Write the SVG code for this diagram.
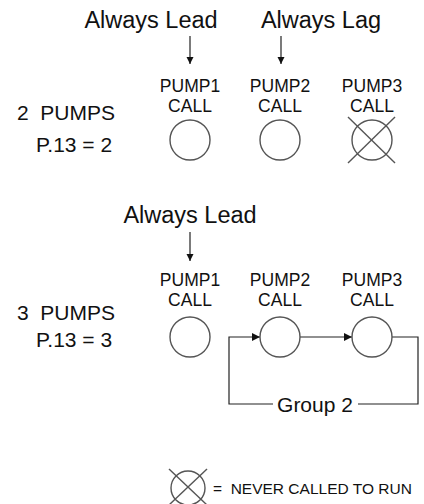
<svg xmlns="http://www.w3.org/2000/svg" width="424" height="504" viewBox="0 0 424 504">
<style>
text{font-family:"Liberation Sans",Arial,sans-serif;fill:#111;white-space:pre}
.big{font-size:23.5px;text-anchor:middle}
.lbl{font-size:17.5px;text-anchor:middle}
.side{font-size:21px}
.c{fill:none;stroke:#555;stroke-width:1.4}
.ln{fill:none;stroke:#222;stroke-width:1.2}
</style>
<defs>
<marker id="ah" viewBox="0 0 10 10" refX="10" refY="5" markerWidth="7" markerHeight="11" markerUnits="userSpaceOnUse" orient="auto"><path d="M0,0 L10,5 L0,10 z" fill="#111"/></marker>
<marker id="ah2" viewBox="0 0 10 10" refX="10" refY="5" markerWidth="14" markerHeight="8" markerUnits="userSpaceOnUse" orient="auto"><path d="M0,0 L10,5 L0,10 z" fill="#111"/></marker>
</defs>
<rect width="424" height="504" fill="#fff"/>
<g id="connectors">
<line class="ln" x1="190" y1="36" x2="190" y2="64" marker-end="url(#ah)"/>
<line class="ln" x1="281" y1="36" x2="281" y2="64" marker-end="url(#ah)"/>
<line class="ln" x1="190" y1="232" x2="190" y2="261" marker-end="url(#ah)"/>
<line class="ln" x1="300" y1="337" x2="352" y2="337" marker-end="url(#ah2)"/>
<polyline class="ln" points="392,337 418,337 418,404 358,404"/>
<polyline class="ln" points="273,404 229,404 229,337 260,337" marker-end="url(#ah2)"/>
</g>
<g id="heading-1">
<text class="big" x="151" y="28">Always Lead</text>
<text class="big" x="321" y="28">Always Lag</text>
</g>
<g id="row-2pumps">
<text class="side" x="17" y="120" xml:space="preserve">2  PUMPS</text>
<text class="side" x="36" y="152">P.13 = 2</text>
</g>
<g id="pump1-a">
<text class="lbl" x="190" y="92">PUMP1</text>
<text class="lbl" x="190" y="112">CALL</text>
<circle class="c" cx="190" cy="140" r="20"/>
</g>
<g id="pump2-a">
<text class="lbl" x="280" y="92">PUMP2</text>
<text class="lbl" x="280" y="112">CALL</text>
<circle class="c" cx="280" cy="140" r="20"/>
</g>
<g id="pump3-a">
<text class="lbl" x="372" y="92">PUMP3</text>
<text class="lbl" x="372" y="112">CALL</text>
<circle class="c" cx="372" cy="140" r="20"/>
<line class="c" x1="348" y1="117" x2="395" y2="163"/>
<line class="c" x1="395" y1="117" x2="348" y2="163"/>
</g>
<g id="heading-2">
<text class="big" x="190" y="223">Always Lead</text>
</g>
<g id="row-3pumps">
<text class="side" x="17" y="320" xml:space="preserve">3  PUMPS</text>
<text class="side" x="36" y="347">P.13 = 3</text>
</g>
<g id="pump1-b">
<text class="lbl" x="190" y="286">PUMP1</text>
<text class="lbl" x="190" y="306">CALL</text>
<circle class="c" cx="190" cy="337" r="20"/>
</g>
<g id="pump2-b">
<text class="lbl" x="280" y="286">PUMP2</text>
<text class="lbl" x="280" y="306">CALL</text>
<circle class="c" cx="280" cy="337" r="20"/>
</g>
<g id="pump3-b">
<text class="lbl" x="372" y="286">PUMP3</text>
<text class="lbl" x="372" y="306">CALL</text>
<circle class="c" cx="372" cy="337" r="20"/>
</g>
<g id="group2">
<text class="big" x="315" y="412" style="font-size:21px">Group 2</text>
</g>
<g id="legend">
<circle class="c" cx="188" cy="488" r="17"/>
<line class="c" x1="169" y1="469" x2="207" y2="505"/>
<line class="c" x1="207" y1="469" x2="169" y2="505"/>
<text x="213" y="494" style="font-size:15.5px" xml:space="preserve">=  NEVER CALLED TO RUN</text>
</g>
</svg>
